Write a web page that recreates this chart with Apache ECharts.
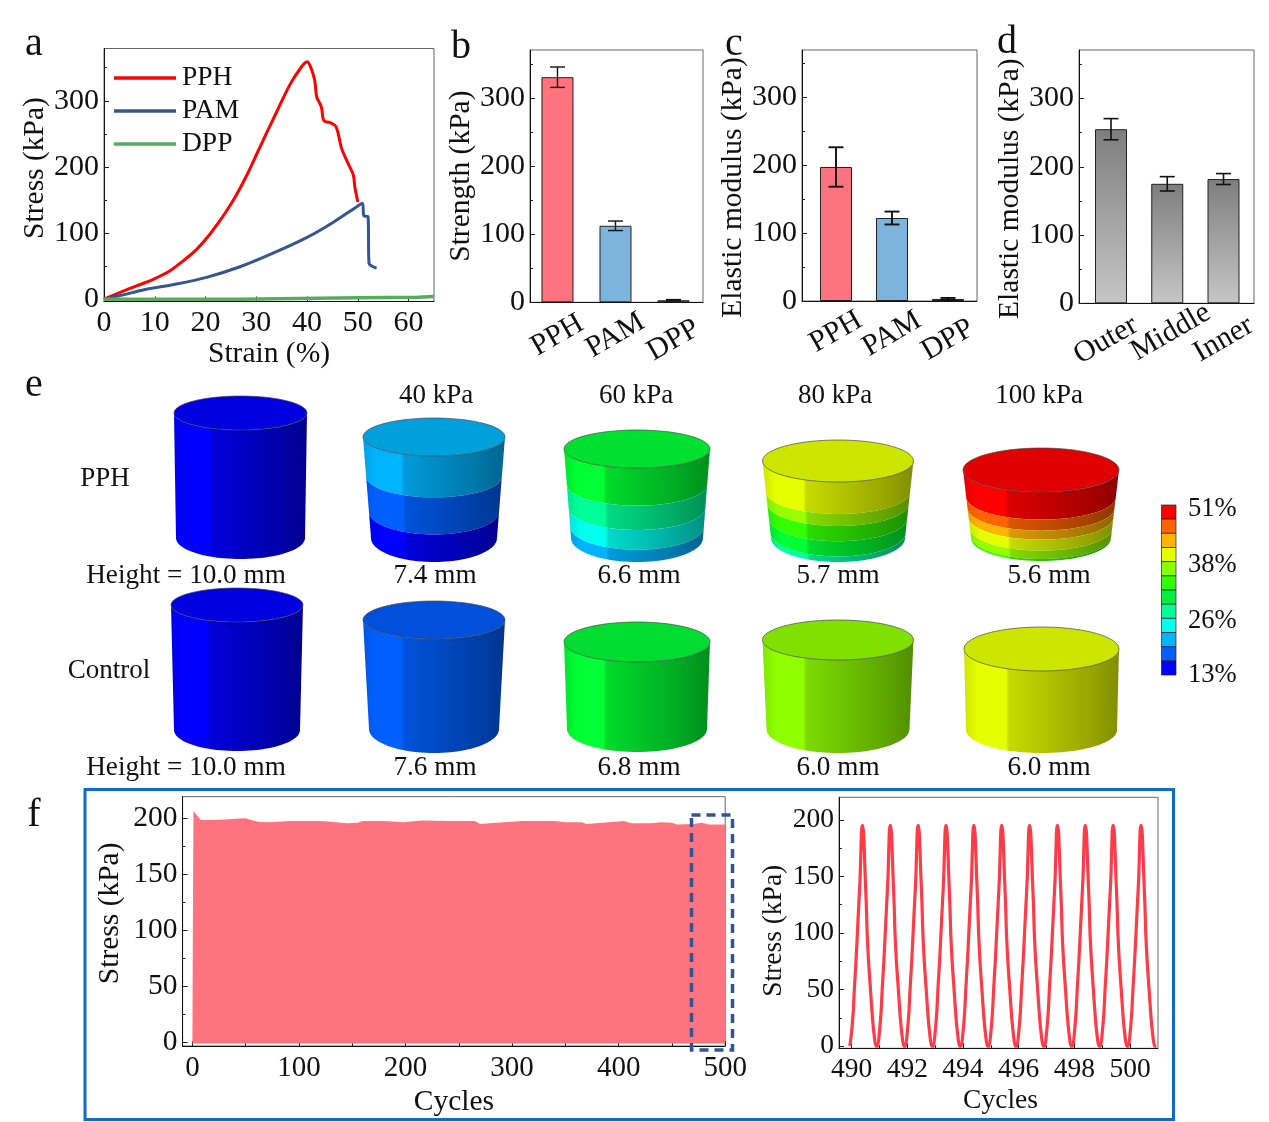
<!DOCTYPE html>
<html><head><meta charset="utf-8">
<style>html,body{margin:0;padding:0;background:#fff}#c{width:1269px;height:1122px}</style>
<script src="https://cdn.jsdelivr.net/npm/echarts@6/dist/echarts.min.js"></script>
</head><body><div id="c"></div>
<script>
// ---- data ----
const pphCurve=[[0,0],[3.1,10],[6.4,20],[9.7,30],[13,43],[15.6,58],[18.2,75],[20.2,92],[22.2,112],[24.1,133],[26.1,158],[28.1,187],[30,218],[32,251],[34,283],[36.6,324],[38.6,348],[40,359],[40.7,351],[41.5,331],[41.9,306],[42.8,291],[43.3,270],[44.5,267],[45.7,261],[46.8,228],[48.1,205],[49.1,188],[49.4,170],[50,147]];
const pamCurve=[[0,0],[3.8,6.5],[7.7,14],[14.3,23],[20.2,33],[26.8,49],[33.3,69.5],[39.9,93],[45.1,116],[50,141],[50.9,145],[51.2,126],[52,125],[52.2,54],[53,49],[53.7,47]];
const dppCurve=[[0,0],[26.7,0],[26.8,2],[50,2],[50.1,3],[61.9,3],[62,4],[65,4]];
const strengthCats=['PPH','PAM','DPP'];
const strengthVals=[331,112.5,3];
const strengthErr=[15,7,1];
const modulusCats=['PPH','PAM','DPP'];
const modulusVals=[197,122,3];
const modulusErr=[29,9.5,1.5];
const layerCats=['Outer','Middle','Inner'];
const layerVals=[255,175,182];
const layerErr=[15.5,10.5,8];
const cyclingEnvelope=[[0,0],[0.2,50],[0.6,140],[1,206.5],[4,203],[8,198.5],[20,198.5],[30,199],[40,199.5],[50,200],[55,198.5],[62,197],[70,196.5],[80,197],[90,197.5],[100,197.5],[120,197.5],[130,197],[145,195.5],[155,196],[160,197.5],[180,197.5],[198,196.5],[215,198],[240,197.5],[265,197.5],[270,195],[285,196],[310,197.5],[340,197.5],[350,196.5],[365,196.5],[370,195],[385,196],[405,197.5],[412,195.5],[430,195.5],[440,196.5],[450,196],[455,194.5],[470,195],[478,196],[485,194.5],[500,194.5]];
const lastCycles=[490,491,492,493,494,495,496,497,498,499,500];
const cycleOffset=[-0.06,0,0.06,0.1,0.16,0.21,0.26,0.31,0.35,0.37,0.41,0.44,0.49,0.53,0.56,0.61,0.68,0.75,0.82,0.87,0.94];
const cycleStress=[0,12,30,50,75,100,125,150,185,195,195,185,150,125,100,75,50,25,8,0,0];
const strainTicks=[0,10,20,30,40,50,60];
const stressTicks=[0,100,200,300];
const stressMinor=[50,150,250,350];
const cycleStressTicks=[0,50,100,150,200];
const cycleStressMinor=[25,75,125,175];
const cyclesTicks=[0,100,200,300,400,500];
const cyclesMinor=[50,150,250,350,450];
const lastTicks=[490,492,494,496,498,500];
const lastMinor=[491,493,495,497,499];
const barPositions=[0,1,2];
const colorbarLabels=['51%','38%','26%','13%'];
const pressures=['40 kPa','60 kPa','80 kPa','100 kPa'];
const pphHeights=['Height = 10.0 mm','7.4 mm','6.6 mm','5.7 mm','5.6 mm'];
const controlHeights=['Height = 10.0 mm','7.6 mm','6.8 mm','6.0 mm','6.0 mm'];

// ---- style / layout ----
const F='"Liberation Serif","Times New Roman",serif';
const PINK='#ff737e',BLUE='#7db4dd',GREEN='#58ab5c',INK='#111';
const grids=[
 {left:104,top:48.5,width:330,height:253},
 {left:530,top:50,width:173,height:252.3},
 {left:802,top:50,width:175,height:251},
 {left:1079,top:50,width:175,height:253.3},
 {left:182.6,top:796.7,width:542.6,height:249.3},
 {left:839,top:797.3,width:319,height:251}
].map(g=>Object.assign({show:true,borderColor:'#666',borderWidth:1,containLabel:false},g));
function namePad(s){return s>0?[0,0,0,2*s]:s<0?[0,-2*s,0,0]:0;}
function valY(i,min,max,ticks,name,gap,o){
 o=o||{};
 return {type:'value',gridIndex:i,position:'left',min:min,max:max,name:name,nameLocation:'middle',nameGap:gap,
  nameTextStyle:{fontFamily:F,fontSize:o.nameSize||29.5,color:INK,padding:namePad(o.shift||0)},
  axisLine:{show:true,onZero:false,lineStyle:{color:INK}},
  axisTick:{show:true,inside:true,length:5,customValues:ticks,lineStyle:{color:'#222'}},
  splitLine:{show:false},
  axisLabel:{customValues:ticks,fontFamily:F,fontSize:o.size||30,color:INK,margin:o.margin||5,padding:[o.pad||4,0,0,0]}};
}
function minorY(i,min,max,ticks){
 return {type:'value',gridIndex:i,position:'left',min:min,max:max,axisLine:{show:false,onZero:false},
  axisTick:{show:true,inside:true,length:3,customValues:ticks,lineStyle:{color:'#222'}},
  splitLine:{show:false},axisLabel:{show:false}};
}
function minorX(i,min,max,ticks){
 return {type:'value',gridIndex:i,position:'bottom',min:min,max:max,axisLine:{show:false,onZero:false},
  axisTick:{show:true,inside:true,length:3,customValues:ticks,lineStyle:{color:'#222'}},
  splitLine:{show:false},axisLabel:{show:false}};
}
function valX(i,min,max,ticks,name,o){
 o=o||{};
 return {type:'value',gridIndex:i,position:'bottom',min:min,max:max,name:name,nameLocation:'middle',nameGap:o.gap||38,
  nameTextStyle:{fontFamily:F,fontSize:o.nameSize||29.5,color:INK,padding:o.namePad||0},
  axisLine:{onZero:false,lineStyle:{color:INK}},
  axisTick:{show:true,inside:true,length:5,customValues:ticks,lineStyle:{color:'#222'}},
  splitLine:{show:false},
  axisLabel:{customValues:ticks,showMinLabel:true,showMaxLabel:true,fontFamily:F,fontSize:o.size||30,color:INK,margin:o.margin||7}};
}
function catX(i,min,max){
 return {type:'value',gridIndex:i,position:'bottom',min:min,max:max,axisTick:{show:false},axisLine:{onZero:false,lineStyle:{color:INK}},splitLine:{show:false},
  axisLabel:{show:false}};
}
// one overlay axis per rotated label, so that ECharts does not drop a neighbour as overlapping
function catLabelX(i,min,max,k,text,margin,pad){
 return {type:'value',gridIndex:i,position:'bottom',min:min,max:max,axisTick:{show:false},axisLine:{show:false,onZero:false},splitLine:{show:false},
  axisLabel:{customValues:[barPositions[k]],formatter:()=>text,rotate:30,align:'center',verticalAlign:'middle',margin:margin,padding:pad||0,fontFamily:F,fontSize:30,color:INK}};
}
function barSeries(i,vals,colors){
 return {type:'bar',xAxisIndex:i,yAxisIndex:i,barWidth:32,
  data:vals.map((v,k)=>({value:[barPositions[k],v],itemStyle:{color:colors[k],borderColor:'#222',borderWidth:1}}))};
}
function errSeries(i,vals,errs,w){
 return {type:'custom',xAxisIndex:i,yAxisIndex:i,z:5,clip:false,
  data:vals.map((v,k)=>[barPositions[k],v-errs[k],v+errs[k]]),
  renderItem(p,api){
   const a=api.coord([api.value(0),api.value(1)]),b=api.coord([api.value(0),api.value(2)]);
   const st={stroke:INK,lineWidth:w,fill:null};
   return {type:'group',children:[
    {type:'line',shape:{x1:a[0],y1:a[1],x2:b[0],y2:b[1]},style:st},
    {type:'line',shape:{x1:a[0]-7.5,y1:a[1],x2:a[0]+7.5,y2:a[1]},style:st},
    {type:'line',shape:{x1:b[0]-7.5,y1:b[1],x2:b[0]+7.5,y2:b[1]},style:st}]};
  }};
}
const grayGrad={type:'linear',x:0,y:0,x2:0,y2:1,colorStops:[{offset:0,color:'#7e7e7e'},{offset:1,color:'#c6c6c6'}]};
const lastCycleLine=[];
lastCycles.forEach(n=>cycleOffset.forEach((o,k)=>lastCycleLine.push([n+o,cycleStress[k]])));

const bxr=[[1,-0.474,2.509,strengthCats,[33,33,38],[0,0,0]],[2,-0.607,2.518,modulusCats,[31,33,39],[0,0,0]],[3,-0.569,2.542,layerCats,[34,31,36],[[0,12,0,0],[0,0,0,8],0]]];
const xAxes=[
 valX(0,0,65,strainTicks,'Strain (%)',{gap:35,margin:7}),
 catX(1,-0.474,2.509),
 catX(2,-0.607,2.518),
 catX(3,-0.569,2.542),
 valX(4,-9.2,500,cyclesTicks,'Cycles',{gap:41,size:29,margin:8}),
 valX(5,489.55,501,lastTicks,'Cycles',{gap:38,size:27.5,nameSize:27.5,namePad:[0,0,0,4]}),
 minorX(4,-9.2,500,cyclesMinor),
 minorX(5,489.55,501,lastMinor)
];
bxr.forEach(b=>b[3].forEach((t,k)=>xAxes.push(catLabelX(b[0],b[1],b[2],k,t,b[4][k],b[5][k]))));
const yAxes=[
 valY(0,-3.5,379,stressTicks,'Stress (kPa)',53,{shift:7}),
 valY(1,0,371,stressTicks,'Strength (kPa)',53,{}),
 valY(2,0,369,stressTicks,'Elastic modulus (kPa)',53,{shift:-12}),
 valY(3,0,371,stressTicks,'Elastic modulus (kPa)',52,{shift:-12}),
 valY(4,-3.3,219.3,cycleStressTicks,'Stress (kPa)',57,{nameSize:29.5,size:29.5,shift:8,pad:7}),
 valY(5,-2,220,cycleStressTicks,'Stress (kPa)',51,{nameSize:27.5,size:27.5,shift:-8}),
 minorY(0,-3.5,379,stressMinor),
 minorY(1,0,371,stressMinor),
 minorY(2,0,369,stressMinor),
 minorY(3,0,371,stressMinor),
 minorY(4,-3.3,219.3,cycleStressMinor),
 minorY(5,-2,220,cycleStressMinor)
];
const series=[
 {name:'PPH',type:'line',xAxisIndex:0,yAxisIndex:0,symbol:'none',smooth:0.35,color:'#ff0000',lineStyle:{width:3,color:'#ff0000'},data:pphCurve},
 {name:'PAM',type:'line',xAxisIndex:0,yAxisIndex:0,symbol:'none',smooth:0.3,color:'#34578f',lineStyle:{width:3,color:'#34578f'},data:pamCurve},
 {name:'DPP',type:'line',xAxisIndex:0,yAxisIndex:0,symbol:'none',color:GREEN,lineStyle:{width:3.5,color:GREEN},data:dppCurve},
 barSeries(1,strengthVals,[PINK,BLUE,GREEN]),errSeries(1,strengthVals,strengthErr,1.4),
 barSeries(2,modulusVals,[PINK,BLUE,GREEN]),errSeries(2,modulusVals,modulusErr,1.9),
 barSeries(3,layerVals,[grayGrad,grayGrad,grayGrad]),errSeries(3,layerVals,layerErr,1.6),
 {type:'line',xAxisIndex:4,yAxisIndex:4,symbol:'none',lineStyle:{width:0},color:PINK,areaStyle:{color:PINK,opacity:1,origin:-1},data:cyclingEnvelope},
 {type:'line',xAxisIndex:5,yAxisIndex:5,symbol:'none',smooth:0.2,lineStyle:{width:3.2,color:'#ff3b47'},data:lastCycleLine}
];

// ---- cylinders (illustration drawn as polygons) ----
function shade(hex,f){
 const n=parseInt(hex.slice(1),16);
 const c=[(n>>16)&255,(n>>8)&255,n&255].map(v=>Math.round(v*f));
 return 'rgb('+c.join(',')+')';
}
function sideGrad(hex){
 const stops=[[0,.9],[.09,1],[.27,1],[.29,.86],[.55,.76],[.8,.66],[1,.56]];
 return {type:'linear',x:0,y:0,x2:1,y2:0,colorStops:stops.map(s=>({offset:s[0],color:shade(hex,s[1])}))};
}
function cylinder(c,out){
 const rxAt=t=>c.rt+(c.rb-c.rt)*t, ryAt=t=>c.ryt+(c.ryb-c.ryt)*t;
 const cyAt=t=>c.yt+(c.yb-c.yt)*t;
 const arc=t=>{const pts=[];for(let k=0;k<=48;k++){const a=Math.PI*k/48;pts.push([c.cx-rxAt(t)*Math.cos(a),cyAt(t)+ryAt(t)*Math.sin(a)]);}return pts;};
 c.bands.forEach((col,i)=>{
  const top=arc(c.cuts[i]),bot=arc(c.cuts[i+1]).reverse();
  out.push({type:'polygon',z:10,shape:{points:top.concat(bot)},style:{fill:sideGrad(col),stroke:null}});
 });
 const ell=[];for(let k=0;k<72;k++){const a=2*Math.PI*k/72;ell.push([c.cx+c.rt*Math.cos(a),c.yt+c.ryt*Math.sin(a)]);}
 out.push({type:'polygon',z:11,shape:{points:ell},style:{fill:c.top,stroke:'#4a4a4a',lineWidth:.7}});
}
const B1=['#0000ff'];
const cylinders=[
 {cx:240.5,rt:66.5,rb:64.5,yt:413,yb:538,ryt:17,ryb:21,top:'#0000e0',bands:B1,cuts:[0,1]},
 {cx:434,rt:71,rb:63,yt:437,yb:538,ryt:19,ryb:24,top:'#00a0dc',bands:['#00b4ff','#0060ff','#0000ff'],cuts:[0,.39,.74,1]},
 {cx:637,rt:73,rb:66,yt:449,yb:538,ryt:19,ryb:24,top:'#00e030',bands:['#00ff33','#00ff99','#00ffee','#00b4ff'],cuts:[0,.40,.66,.87,1]},
 {cx:838,rt:75.5,rb:67,yt:461,yb:538,ryt:21,ryb:24,top:'#cce600',bands:['#e6ff00','#99ff00','#33ff00','#00ff33','#00ffa0'],cuts:[0,.40,.55,.74,.93,1]},
 {cx:1041,rt:78,rb:70,yt:470,yb:538,ryt:22,ryb:23,top:'#e00000',bands:['#ff0000','#ff6400','#ffb400','#e6ff00','#99ff00','#33ff00'],cuts:[0,.40,.56,.69,.85,.97,1]},
 {cx:237,rt:66,rb:63,yt:605,yb:730,ryt:17,ryb:21,top:'#0000e0',bands:B1,cuts:[0,1]},
 {cx:434,rt:71,rb:65,yt:620,yb:729,ryt:19,ryb:24,top:'#0050dc',bands:['#0060ff'],cuts:[0,1]},
 {cx:637,rt:73,rb:70,yt:642,yb:729,ryt:20,ryb:23,top:'#00dc30',bands:['#00ff33'],cuts:[0,1]},
 {cx:838,rt:75.5,rb:71.5,yt:640,yb:729,ryt:20,ryb:24,top:'#80e000',bands:['#90ff00'],cuts:[0,1]},
 {cx:1041.5,rt:77.5,rb:75.5,yt:649,yb:730,ryt:22,ryb:23,top:'#cce600',bands:['#e6ff00'],cuts:[0,1]}
];
const barColors=['#ff0000','#ff6400','#ffb400','#e6ff00','#8cff00','#33ff00','#00f040','#00ff99','#00ffee','#00b4ff','#0060ff','#0000ff'];
const g=[];
function T(s,x,y,size,align){g.push({type:'text',z:20,x:x,y:y,style:{text:s,fontFamily:F,fontSize:size,fill:INK,textAlign:align||'center',textVerticalAlign:'middle'}});}
[['a',34,44],['b',461,47],['c',734,44],['d',1007,42],['e',34,385],['f',34,815]].forEach(a=>T(a[0],a[1],a[2],40));
cylinders.forEach(c=>cylinder(c,g));
[436,636,835,1039].forEach((x,i)=>T(pressures[i],x,396,27));
T('PPH',105,479,27);T('Control',109,671,27);
[186,435,639,838,1049].forEach((x,i)=>{T(pphHeights[i],x,576,27.2);T(controlHeights[i],x,768,27.2);});
barColors.forEach((col,i)=>g.push({type:'rect',z:12,shape:{x:1161.5,y:505+i*14.17,width:14.5,height:14.17},style:{fill:col,stroke:'#222',lineWidth:.7}}));
[[509],[565],[621],[675]].forEach((a,i)=>T(colorbarLabels[i],1188,a[0],26.6,'left'));
g.push({type:'rect',z:0,shape:{x:85,y:789.5,width:1088.5,height:330},style:{fill:null,stroke:'#0a6ccf',lineWidth:3}});
g.push({type:'rect',z:30,shape:{x:691.5,y:815,width:41,height:235},style:{fill:null,stroke:'#2f5597',lineWidth:3.5,lineDash:[9,6]}});

const chart=echarts.init(document.getElementById('c'),null,{renderer:'canvas'});
chart.setOption({animation:false,backgroundColor:'#fff',grid:grids,xAxis:xAxes,yAxis:yAxes,series:series,
 legend:{show:true,data:['PPH','PAM','DPP'],icon:'rect',orient:'vertical',left:114,top:64,itemWidth:62,itemHeight:3.5,itemGap:5,padding:0,
  textStyle:{fontFamily:F,fontSize:27.5,color:INK,padding:[0,0,0,1]},selectedMode:false},
 graphic:{elements:g}});
</script></body></html>
